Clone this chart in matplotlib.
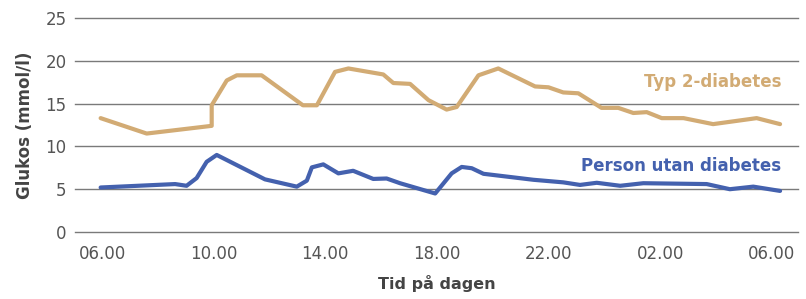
import matplotlib.pyplot as plt

# hours since midnight (values past 24 belong to the next day)
typ2_hours = [5.95, 7.6, 9.93, 9.93, 10.47, 10.83, 11.72, 13.2, 13.7, 14.35, 14.83,
              16.08, 16.44, 17.04, 17.7, 18.35, 18.71, 19.49, 20.2, 21.52, 22.0,
              22.53, 23.07, 23.9, 24.5, 25.04, 25.52, 26.06, 26.84, 27.9, 29.46, 30.3]
typ2_glucose = [13.3, 11.5, 12.4, 14.8, 17.7, 18.3, 18.3, 14.8, 14.8, 18.7, 19.1,
                18.4, 17.4, 17.3, 15.4, 14.3, 14.6, 18.3, 19.1, 17.0, 16.9,
                16.3, 16.2, 14.5, 14.5, 13.9, 14.0, 13.3, 13.3, 12.6, 13.3, 12.6]

normal_hours = [5.95, 8.62, 9.03, 9.39, 9.75, 10.11, 11.84, 12.98, 13.34, 13.52, 13.93,
                14.47, 15.0, 15.72, 16.2, 16.68, 17.94, 18.53, 18.89, 19.25, 19.67,
                21.46, 22.53, 23.13, 23.73, 24.57, 25.4, 27.67, 28.5, 29.34, 30.3]
normal_glucose = [5.2, 5.6, 5.4, 6.3, 8.2, 9.0, 6.15, 5.3, 6.0, 7.55, 7.9,
                  6.85, 7.15, 6.2, 6.25, 5.7, 4.5, 6.85, 7.6, 7.45, 6.8,
                  6.1, 5.8, 5.5, 5.75, 5.4, 5.7, 5.6, 5.0, 5.3, 4.8]

tick_hours = [6, 10, 14, 18, 22, 26, 30]
tick_labels = ["06.00", "10.00", "14.00", "18.00", "22.00", "02.00", "06.00"]

TAN = "#d2ab74"
BLUE = "#4461ae"

plt.rcParams['font.family'] = ['DejaVu Sans']

fig = plt.figure(figsize=(8.06, 2.99), dpi=100)
ax = fig.add_axes([0.093, 0.224, 0.897, 0.716])

ax.plot(typ2_hours, typ2_glucose, color=TAN, lw=3.0, solid_joinstyle='round',
        solid_capstyle='round', zorder=3)
ax.plot(normal_hours, normal_glucose, color=BLUE, lw=3.0, solid_joinstyle='round',
        solid_capstyle='round', zorder=3)

ax.set_xlim(5.03, 30.94)
ax.set_ylim(0, 25)
ax.set_yticks([0, 5, 10, 15, 20, 25])
ax.set_xticks(tick_hours)
ax.set_xticklabels(tick_labels)

ax.grid(axis='y', color='#7a7a7a', lw=1.0, clip_on=False)
ax.set_axisbelow(True)
for s in ax.spines.values():
    s.set_visible(False)
ax.tick_params(length=0, labelsize=12, colors='#555555')
ax.tick_params(axis='x', pad=9)
ax.tick_params(axis='y', pad=6)

ax.set_xlabel("Tid på dagen", fontsize=11.5, fontweight='bold', color='#444444', labelpad=9)
ax.set_ylabel("Glukos (mmol/l)", fontsize=12, fontweight='bold', color='#444444', labelpad=8)

ax.text(30.35, 17.5, "Typ 2-diabetes", color=TAN, fontsize=12, ha='right', va='center',
        fontweight='bold')
ax.text(30.35, 7.7, "Person utan diabetes", color=BLUE, fontsize=12, ha='right',
        va='center', fontweight='bold')

fig.savefig("out.png", dpi=100)
